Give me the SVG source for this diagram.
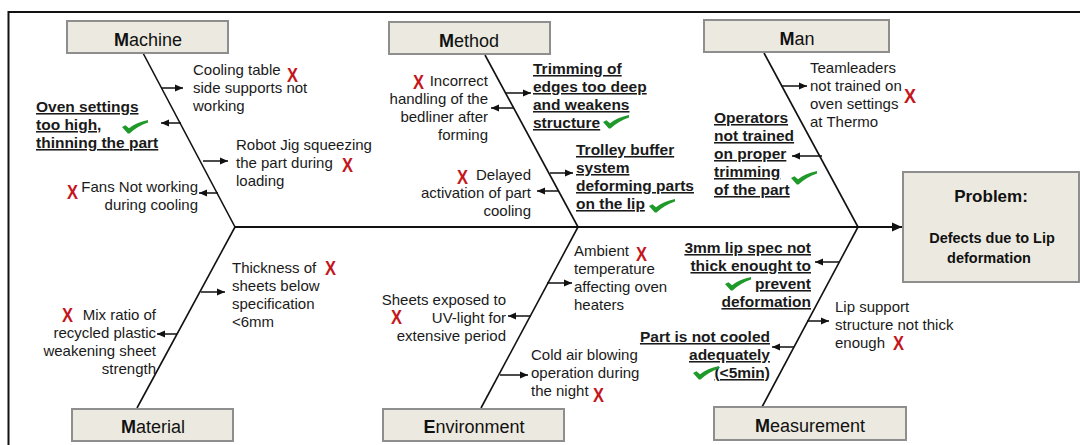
<svg xmlns="http://www.w3.org/2000/svg" width="1080" height="445" viewBox="0 0 1080 445">
<defs>
<style>
.box{fill:#ECEAE0;stroke:#8E8E8E;stroke-width:2}
.cat{font-family:"Liberation Sans",Arial,sans-serif;font-size:18px;fill:#111;text-anchor:middle}
.cat .b{font-weight:bold}
.t{font-family:"Liberation Sans",Arial,sans-serif;font-size:15px;fill:#1a1a1a}
.u{font-family:"Liberation Sans",Arial,sans-serif;font-size:15.5px;font-weight:bold;fill:#1a1a1a;text-decoration:underline}
.e{text-anchor:end}
.x{font-family:"Liberation Sans",Arial,sans-serif;font-size:21px;font-weight:bold;fill:#C4161C}
.prob{font-family:"Liberation Sans",Arial,sans-serif;font-weight:bold;fill:#111;text-anchor:middle}
.bone{stroke:#111;stroke-width:1.6;fill:none}
.arr{stroke:#111;stroke-width:1.5;fill:none;marker-end:url(#ah)}
.chk{fill:#1F9A2A}
</style>
<marker id="ah" markerUnits="userSpaceOnUse" markerWidth="9" markerHeight="8" refX="8" refY="4" orient="auto">
<path d="M0,0.5 L8,4 L0,7.5 Z" fill="#111"/>
</marker>
<marker id="ah2" markerUnits="userSpaceOnUse" markerWidth="11" markerHeight="10" refX="10" refY="5" orient="auto">
<path d="M0,0.5 L10,5 L0,9.5 Z" fill="#111"/>
</marker>
<path id="ck" d="M0,7 L3.5,5.3 L7,8.2 C12,4.6 18,1.6 26,0 L26,2.6 C19,5 13,8.8 7.5,13.5 L5.8,13.5 Z"/>
</defs>

<rect width="1080" height="445" fill="#fff"/>
<path d="M8.5,445 V12 H1080" fill="none" stroke="#111" stroke-width="2"/>

<g id="connectors">
<line x1="235" y1="227" x2="902" y2="227" stroke="#111" stroke-width="2" marker-end="url(#ah2)"/>
<line class="bone" x1="143" y1="53" x2="235" y2="227"/>
<line class="bone" x1="485" y1="55" x2="578" y2="227"/>
<line class="bone" x1="764" y1="53" x2="858" y2="227"/>
<line class="bone" x1="235" y1="227" x2="137" y2="408"/>
<line class="bone" x1="578" y1="227" x2="481" y2="408"/>
<line class="bone" x1="858" y1="227" x2="762" y2="407"/>
<line class="arr" x1="162" y1="88" x2="183" y2="88"/>
<line class="arr" x1="181" y1="123" x2="161" y2="123"/>
<line class="arr" x1="203" y1="161" x2="228" y2="161"/>
<line class="arr" x1="218" y1="193" x2="199" y2="193"/>
<line class="arr" x1="506" y1="93" x2="531" y2="93"/>
<line class="arr" x1="514" y1="108" x2="491" y2="108"/>
<line class="arr" x1="550" y1="173" x2="573" y2="173"/>
<line class="arr" x1="558" y1="191" x2="537" y2="191"/>
<line class="arr" x1="782" y1="86" x2="807" y2="86"/>
<line class="arr" x1="822" y1="156" x2="792" y2="156"/>
<line class="arr" x1="201" y1="292" x2="225" y2="292"/>
<line class="arr" x1="177" y1="334" x2="157" y2="334"/>
<line class="arr" x1="547" y1="283" x2="572" y2="283"/>
<line class="arr" x1="531" y1="316" x2="508" y2="316"/>
<line class="arr" x1="500" y1="375" x2="528" y2="375"/>
<line class="arr" x1="839" y1="262" x2="815" y2="262"/>
<line class="arr" x1="807" y1="321" x2="829" y2="321"/>
<line class="arr" x1="794" y1="347" x2="772" y2="347"/>
</g>

<g id="machine">
<rect class="box" x="67" y="21" width="161" height="32"/>
<text class="cat" x="148" y="46"><tspan class="b">M</tspan>achine</text>
</g>
<g id="method">
<rect class="box" x="389" y="22" width="161" height="32"/>
<text class="cat" x="469" y="47"><tspan class="b">M</tspan>ethod</text>
</g>
<g id="man">
<rect class="box" x="704" y="20" width="185" height="32"/>
<text class="cat" x="797" y="45"><tspan class="b">M</tspan>an</text>
</g>
<g id="material">
<rect class="box" x="72" y="409" width="161" height="32"/>
<text class="cat" x="153" y="433"><tspan class="b">M</tspan>aterial</text>
</g>
<g id="environment">
<rect class="box" x="383" y="409" width="181" height="32"/>
<text class="cat" x="474" y="433"><tspan class="b">E</tspan>nvironment</text>
</g>
<g id="measurement">
<rect class="box" x="714" y="407" width="192" height="33"/>
<text class="cat" x="810" y="432"><tspan class="b">M</tspan>easurement</text>
</g>

<g id="problem">
<rect class="box" x="903" y="172" width="176" height="110"/>
<text class="prob" x="991" y="202" font-size="17">Problem:</text>
<text class="prob" x="992" y="243" font-size="14.5">Defects due to Lip</text>
<text class="prob" x="989" y="263" font-size="14.5">deformation</text>
</g>

<g id="cause-cooling-table">
<text class="t"><tspan x="193" y="75">Cooling table</tspan><tspan x="193" y="93">side supports not</tspan><tspan x="193" y="111">working</tspan></text>
<text class="x" x="287" y="82" textLength="11" lengthAdjust="spacingAndGlyphs">X</text>
</g>
<g id="cause-oven-settings">
<text class="u"><tspan x="36" y="112">Oven settings</tspan><tspan x="36" y="130">too high,</tspan><tspan x="36" y="148">thinning the part</tspan></text>
<use href="#ck" class="chk" x="122" y="120"/>
</g>
<g id="cause-robot-jig">
<text class="t"><tspan x="236" y="150">Robot Jig squeezing</tspan><tspan x="236" y="168">the part during</tspan><tspan x="236" y="186">loading</tspan></text>
<text class="x" x="342" y="172" textLength="11" lengthAdjust="spacingAndGlyphs">X</text>
</g>
<g id="cause-fans">
<text class="t e"><tspan x="198" y="192">Fans Not working</tspan><tspan x="198" y="210">during cooling</tspan></text>
<text class="x" x="67" y="199" textLength="11" lengthAdjust="spacingAndGlyphs">X</text>
</g>

<g id="cause-incorrect-handling">
<text class="t e"><tspan x="488" y="86">Incorrect</tspan><tspan x="488" y="104">handling of the</tspan><tspan x="488" y="122">bedliner after</tspan><tspan x="488" y="140">forming</tspan></text>
<text class="x" x="413" y="89" textLength="11" lengthAdjust="spacingAndGlyphs">X</text>
</g>
<g id="cause-trimming">
<text class="u"><tspan x="533" y="74">Trimming of</tspan><tspan x="533" y="92">edges too deep</tspan><tspan x="533" y="110">and weakens</tspan><tspan x="533" y="128">structure</tspan></text>
<use href="#ck" class="chk" x="603" y="115"/>
</g>
<g id="cause-delayed">
<text class="t e"><tspan x="531" y="180">Delayed</tspan><tspan x="531" y="198">activation of part</tspan><tspan x="531" y="216">cooling</tspan></text>
<text class="x" x="457" y="184" textLength="11" lengthAdjust="spacingAndGlyphs">X</text>
</g>
<g id="cause-trolley">
<text class="u"><tspan x="576" y="155">Trolley buffer</tspan><tspan x="576" y="173">system</tspan><tspan x="576" y="191">deforming parts</tspan><tspan x="576" y="209">on the lip</tspan></text>
<use href="#ck" class="chk" x="649" y="199"/>
</g>

<g id="cause-teamleaders">
<text class="t"><tspan x="810" y="73">Teamleaders</tspan><tspan x="810" y="91">not trained on</tspan><tspan x="810" y="109">oven settings</tspan><tspan x="810" y="127">at Thermo</tspan></text>
<text class="x" x="904" y="103" textLength="12" lengthAdjust="spacingAndGlyphs">X</text>
</g>
<g id="cause-operators">
<text class="u"><tspan x="714" y="123">Operators</tspan><tspan x="714" y="141">not trained</tspan><tspan x="714" y="159">on proper</tspan><tspan x="714" y="177">trimming</tspan><tspan x="714" y="195">of the part</tspan></text>
<use href="#ck" class="chk" x="791" y="171"/>
</g>

<g id="cause-thickness">
<text class="t"><tspan x="232" y="273">Thickness of</tspan><tspan x="232" y="291">sheets below</tspan><tspan x="232" y="309">specification</tspan><tspan x="232" y="327">&lt;6mm</tspan></text>
<text class="x" x="325" y="275" textLength="11" lengthAdjust="spacingAndGlyphs">X</text>
</g>
<g id="cause-mix-ratio">
<text class="t e"><tspan x="156" y="320">Mix ratio of</tspan><tspan x="156" y="338">recycled plastic</tspan><tspan x="156" y="356">weakening sheet</tspan><tspan x="156" y="374">strength</tspan></text>
<text class="x" x="62" y="322" textLength="11" lengthAdjust="spacingAndGlyphs">X</text>
</g>

<g id="cause-ambient">
<text class="t"><tspan x="574" y="256">Ambient</tspan><tspan x="574" y="274">temperature</tspan><tspan x="574" y="292">affecting oven</tspan><tspan x="574" y="310">heaters</tspan></text>
<text class="x" x="636" y="261" textLength="11" lengthAdjust="spacingAndGlyphs">X</text>
</g>
<g id="cause-uv-light">
<text class="t e"><tspan x="506" y="305">Sheets exposed to</tspan><tspan x="506" y="323">UV-light for</tspan><tspan x="506" y="341">extensive period</tspan></text>
<text class="x" x="391" y="324" textLength="11" lengthAdjust="spacingAndGlyphs">X</text>
</g>
<g id="cause-cold-air">
<text class="t"><tspan x="531" y="360">Cold air blowing</tspan><tspan x="531" y="378">operation during</tspan><tspan x="531" y="396">the night</tspan></text>
<text class="x" x="593" y="402" textLength="11" lengthAdjust="spacingAndGlyphs">X</text>
</g>

<g id="cause-lip-spec">
<text class="u e"><tspan x="811" y="253">3mm lip spec not</tspan><tspan x="811" y="271">thick enought to</tspan><tspan x="811" y="289">prevent</tspan><tspan x="811" y="307">deformation</tspan></text>
<use href="#ck" class="chk" x="725" y="277"/>
</g>
<g id="cause-lip-support">
<text class="t"><tspan x="835" y="312">Lip support</tspan><tspan x="835" y="330">structure not thick</tspan><tspan x="835" y="348">enough</tspan></text>
<text class="x" x="893" y="350" textLength="11" lengthAdjust="spacingAndGlyphs">X</text>
</g>
<g id="cause-cooling">
<text class="u e"><tspan x="770" y="342">Part is not cooled</tspan><tspan x="770" y="360">adequately</tspan><tspan x="770" y="378">(&lt;5min)</tspan></text>
<use href="#ck" class="chk" x="693" y="366"/>
</g>
</svg>
